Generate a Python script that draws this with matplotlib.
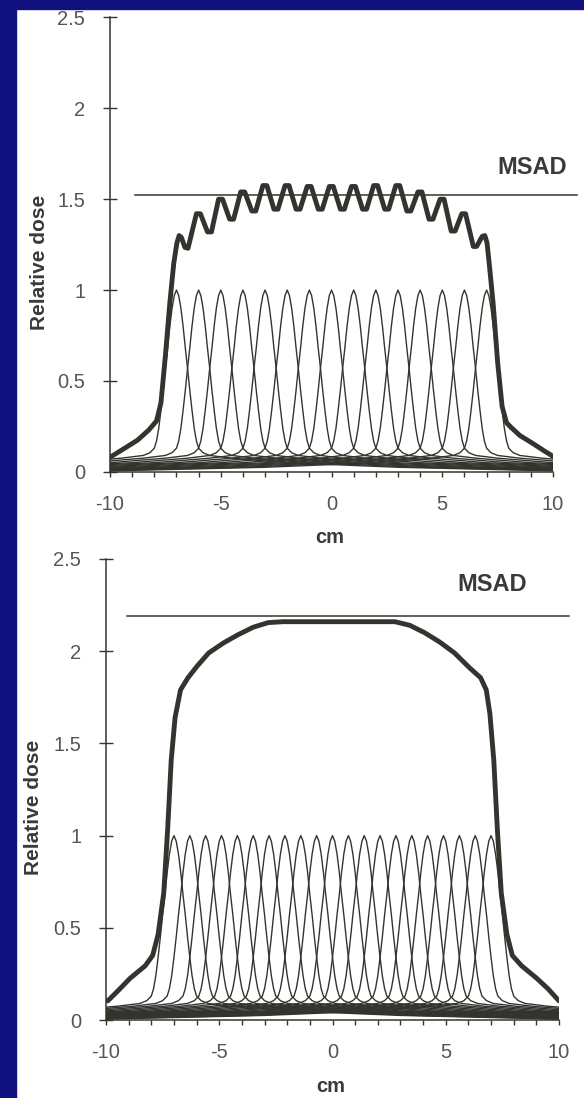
import numpy as np
import matplotlib
matplotlib.use('Agg')
import matplotlib.pyplot as plt
from matplotlib.patches import Rectangle

plt.rcParams['font.family'] = ['Liberation Sans', 'DejaVu Sans']

# slice centres (cm)
slices_top = [-7, -6, -5, -4, -3, -2, -1, 0, 1, 2, 3, 4, 5, 6, 7]
slices_bottom = [-7.0, -6.3, -5.6, -4.9, -4.2, -3.5, -2.8, -2.1, -1.4, -0.7, 0.0,
                 0.7, 1.4, 2.1, 2.8, 3.5, 4.2, 4.9, 5.6, 6.3, 7.0]

# single slice profile (distance from centre in cm, relative dose)
prof_offset = [0, 0.1, 0.2, 0.3, 0.4, 0.5, 0.6, 0.7, 0.8, 0.9, 1.0, 1.2, 1.5, 2.5, 5.0, 10.0, 17.0]
prof_value = [1.0, 0.97, 0.90, 0.80, 0.68, 0.57, 0.45, 0.34, 0.24, 0.17, 0.13, 0.105, 0.09,
              0.075, 0.05, 0.025, 0.005]

# multiple scan dose profile, 1 cm spacing
total_top_x = [-10, -9.4, -8.75, -8.25, -7.9, -7.7, -7.5, -7.3, -7.12, -6.98, -6.88, -6.78,
               -6.62, -6.48, -6.1, -5.92, -5.6, -5.42, -5.1, -4.92, -4.6, -4.42, -4.1, -3.92,
               -3.6, -3.42, -3.1, -2.92, -2.6, -2.42, -2.1, -1.92, -1.6, -1.42, -1.1, -0.92,
               -0.6, -0.42, -0.1, 0.08, 0.4, 0.58, 0.9, 1.08, 1.4, 1.58, 1.9, 2.08,
               2.4, 2.58, 2.9, 3.08, 3.4, 3.58, 3.9, 4.08, 4.4, 4.58, 4.9, 5.08,
               5.4, 5.58, 5.88, 6.05, 6.4, 6.55, 6.8, 6.92, 7.02, 7.14, 7.3, 7.5,
               7.7, 7.9, 8.1, 8.5, 9.1, 9.6, 10]
total_top_y = [0.08, 0.125, 0.175, 0.23, 0.28, 0.38, 0.64, 0.93, 1.15, 1.26, 1.30, 1.29,
               1.235, 1.23, 1.42, 1.42, 1.32, 1.32, 1.50, 1.50, 1.39, 1.39, 1.54, 1.54,
               1.435, 1.435, 1.575, 1.575, 1.445, 1.445, 1.575, 1.575, 1.445, 1.445, 1.57, 1.57,
               1.445, 1.445, 1.57, 1.57, 1.445, 1.445, 1.57, 1.57, 1.445, 1.445, 1.575, 1.575,
               1.445, 1.445, 1.575, 1.575, 1.435, 1.435, 1.54, 1.54, 1.39, 1.39, 1.50, 1.50,
               1.325, 1.325, 1.42, 1.42, 1.24, 1.24, 1.295, 1.30, 1.26, 1.12, 0.92, 0.60,
               0.36, 0.27, 0.245, 0.20, 0.155, 0.115, 0.085]

# multiple scan dose profile, 0.7 cm spacing
total_bot_x = [-9.92, -9.42, -8.93, -8.27, -7.94, -7.7, -7.45, -7.28, -7.12, -6.95, -6.71,
               -6.38, -5.97, -5.47, -4.81, -4.16, -3.5, -2.84, -2.18, 2.76, 3.42, 4.07,
               4.73, 5.39, 6.05, 6.54, 6.79, 6.95, 7.12, 7.28, 7.45, 7.7, 7.94, 8.35,
               9.01, 9.51, 10]
total_bot_y = [0.104, 0.165, 0.227, 0.294, 0.35, 0.464, 0.69, 1.03, 1.41, 1.64, 1.79,
               1.856, 1.92, 1.99, 2.045, 2.09, 2.13, 2.155, 2.16, 2.16, 2.14, 2.10,
               2.05, 1.99, 1.91, 1.856, 1.79, 1.66, 1.41, 1.03, 0.69, 0.464, 0.35, 0.294,
               0.227, 0.17, 0.104]

msad_top = 1.525
msad_bottom = 2.19

line_c = '#34342f'
text_c = '#3a3a3a'
tick_c = '#555555'

fig = plt.figure(figsize=(5.84, 10.98), dpi=100)
fig.patches.append(Rectangle((0, 0), 16 / 584, 1, transform=fig.transFigure,
                             color='#10107e', zorder=0))
fig.patches.append(Rectangle((0, 1 - 9 / 1098), 1, 9 / 1098, transform=fig.transFigure,
                             color='#10107e', zorder=0))


def draw_panel(ax, slices, tx, ty, msad, msad_x0, msad_x1, msad_txt):
    offs = np.array(prof_offset)
    vals = np.array(prof_value)
    px = np.concatenate([-offs[::-1], offs[1:]])
    py = np.concatenate([vals[::-1], vals[1:]])
    for c in slices:
        ax.plot(c + px, py, color=line_c, lw=1.0)
    ax.plot(tx, ty, color=line_c, lw=3.5, solid_joinstyle='round', solid_capstyle='round')
    ax.plot([msad_x0, msad_x1], [msad, msad], color=line_c, lw=1.1, clip_on=False)
    ax.text(msad_txt[0], msad_txt[1], 'MSAD', fontsize=17, fontweight='bold',
            color=text_c, ha='center', va='center')

    ax.set_xlim(-10, 10)
    ax.set_ylim(0, 2.5)
    for s in ['top', 'right']:
        ax.spines[s].set_visible(False)
    for s in ['left', 'bottom']:
        ax.spines[s].set_color(line_c)
        ax.spines[s].set_linewidth(1.1)
    ax.set_yticks([0, 0.5, 1, 1.5, 2, 2.5])
    ax.set_yticklabels(['0', '0.5', '1', '1.5', '2', '2.5'])
    ax.set_xticks([-10, -5, 0, 5, 10])
    ax.set_xticklabels(['-10', '-5', '0', '5', '10'])
    ax.set_xticks(range(-10, 11), minor=True)
    ax.tick_params(axis='y', direction='inout', length=9.5, width=1.0, color=line_c,
                   labelsize=14.5, labelcolor=tick_c, pad=13)
    ax.tick_params(axis='x', which='both', direction='out', length=3.6, width=1.0,
                   color=line_c, labelsize=14.5, labelcolor=tick_c, pad=13)
    ax.set_xlabel('cm', fontsize=14.5, fontweight='bold', color=text_c)
    ax.set_ylabel('Relative dose', fontsize=15, fontweight='bold', color=text_c)
    ax.xaxis.label.set_va('center')
    ax.yaxis.label.set_va('center')
    ax.set_facecolor('none')


ax1 = fig.add_axes([0.1884, 0.5703, 0.7586, 0.4138])
draw_panel(ax1, slices_top, total_top_x, total_top_y, msad_top, -8.87, 11.06, (9.08, 1.677))
ax1.xaxis.set_label_coords(0.497, -0.1435)
ax1.yaxis.set_label_coords(-0.16, 0.46)

ax2 = fig.add_axes([0.1815, 0.0710, 0.7757, 0.4199])
draw_panel(ax2, slices_bottom, total_bot_x, total_bot_y, msad_bottom, -9.06, 10.44, (7.04, 2.36))
ax2.xaxis.set_label_coords(0.4956, -0.144)
ax2.yaxis.set_label_coords(-0.16, 0.462)

fig.savefig('out.png', dpi=100)
